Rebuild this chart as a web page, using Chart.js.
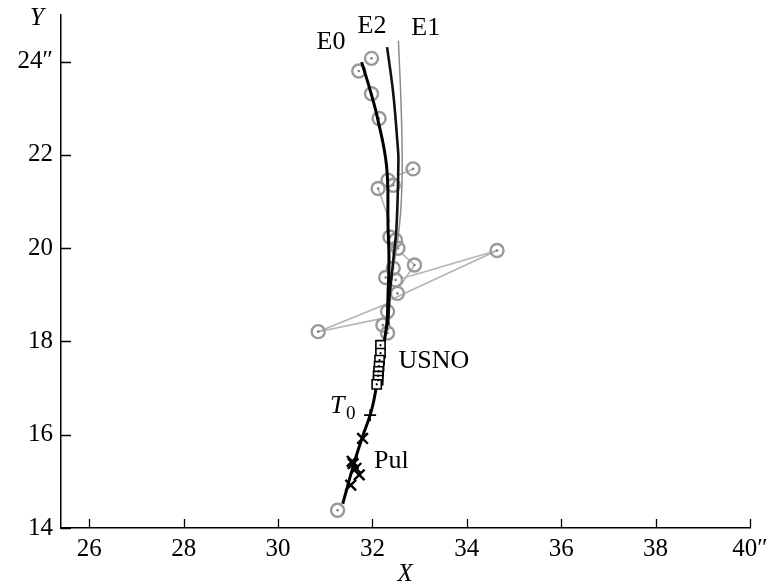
<!DOCTYPE html>
<html>
<head>
<meta charset="utf-8">
<script src="https://cdn.jsdelivr.net/npm/chart.js@4.4.1/dist/chart.umd.min.js"></script>
<style>
  html, body { margin: 0; padding: 0; background: #fff; }
</style>
</head>
<body>
<canvas id="chart" width="771" height="587"></canvas>
<script>
// axis ticks
const xTicks = [26, 28, 30, 32, 34, 36, 38, 40];
const xTickLabels = ["26", "28", "30", "32", "34", "36", "38", "40″"];
const yTicks = [14, 16, 18, 20, 22, 24];
const yTickLabels = ["14", "16", "18", "20", "22", "24″"];

// ephemeris curves
const e0X = [31.77, 31.95, 32.10, 32.30, 32.33, 32.35, 32.33, 32.30, 32.16, 32.03, 31.95, 31.78, 31.61, 31.37];
const e0Y = [23.99, 23.39, 22.82, 21.75, 20.46, 19.74, 19.03, 18.35, 17.49, 16.74, 16.42, 15.93, 15.39, 14.52];
const e2X = [32.31, 32.44, 32.53, 32.55, 32.51, 32.44, 32.37, 32.33];
const e2Y = [24.31, 23.32, 22.25, 21.90, 20.46, 19.74, 19.04, 18.35];
const e1X = [32.55, 32.61, 32.63, 32.60, 32.52, 32.43];
const e1Y = [24.45, 22.96, 21.75, 20.82, 20.07, 19.53];

// observations (gray circles)
const obsX = [31.98, 31.71, 31.98, 32.14, 32.86, 32.33, 32.44, 32.12, 32.37, 32.49, 32.54,
              32.89, 34.64, 32.44, 32.28, 32.49, 32.53, 32.32, 32.22, 32.32, 30.85, 31.26];
const obsY = [24.07, 23.80, 23.31, 22.78, 21.70, 21.46, 21.35, 21.28, 20.24, 20.17, 20.00,
              19.64, 19.95, 19.57, 19.37, 19.32, 19.03, 18.64, 18.35, 18.18, 18.21, 14.38];

// residual lines: observation index -> end point
const linkObs = [4, 7, 11, 11, 12, 12, 20, 20];
const linkEndX = [32.56, 32.37, 32.62, 32.58, 32.62, 32.40, 32.33, 32.24];
const linkEndY = [21.57, 20.56, 19.89, 19.18, 19.35, 18.90, 18.82, 18.50];

// USNO (squares), Pul (crosses), T0 mark
const usnoX = [32.17, 32.17, 32.15, 32.14, 32.13, 32.12, 32.12, 32.09];
const usnoY = [17.92, 17.75, 17.60, 17.47, 17.36, 17.26, 17.17, 17.08];
const pulX = [31.79, 31.57, 31.59, 31.65, 31.72, 31.54];
const pulY = [15.92, 15.43, 15.38, 15.28, 15.14, 14.92];
const t0X = [31.95];
const t0Y = [16.42];

// text labels
const labelText = ["E0", "E2", "E1", "USNO", "Pul"];
const labelX = [31.12, 31.99, 33.13, 33.30, 32.40];
const labelY = [24.42, 24.77, 24.71, 17.58, 15.43];

const pts = (xs, ys) => xs.map((x, i) => ({ x: x, y: ys[i] }));

const datasets = [];

linkObs.forEach((k, i) => {
  datasets.push({
    data: [{ x: obsX[k], y: obsY[k] }, { x: linkEndX[i], y: linkEndY[i] }],
    showLine: true,
    borderColor: "#b4b4b4",
    borderWidth: 1.6,
    pointRadius: 0,
    order: 10
  });
});

datasets.push({
  data: pts(obsX, obsY),
  pointStyle: "circle",
  pointRadius: 6.5,
  borderColor: "#999",
  borderWidth: 2.4,
  backgroundColor: "rgba(255,255,255,0)",
  order: 8
});
datasets.push({
  data: pts(obsX, obsY),
  pointRadius: 1.3,
  borderWidth: 0,
  backgroundColor: "#808080",
  order: 7
});

datasets.push({
  data: pts(e1X, e1Y),
  showLine: true,
  tension: 0.4,
  borderColor: "#8c8c8c",
  borderWidth: 1.5,
  pointRadius: 0,
  order: 6
});
datasets.push({
  data: pts(e2X, e2Y),
  showLine: true,
  tension: 0.4,
  borderColor: "#111",
  borderWidth: 2.6,
  pointRadius: 0,
  order: 5
});
datasets.push({
  data: pts(e0X, e0Y),
  showLine: true,
  tension: 0.4,
  borderColor: "#000",
  borderWidth: 3,
  pointRadius: 0,
  order: 4
});

datasets.push({
  data: pts(usnoX, usnoY),
  pointStyle: "rect",
  pointRadius: 6.5,
  borderColor: "#000",
  borderWidth: 1.6,
  backgroundColor: "#fff",
  order: 3
});
datasets.push({
  data: pts(usnoX, usnoY),
  pointRadius: 1.1,
  borderWidth: 0,
  backgroundColor: "#000",
  order: 2
});
datasets.push({
  data: pts(pulX, pulY),
  pointStyle: "crossRot",
  pointRadius: 7.5,
  borderColor: "#000",
  borderWidth: 2.4,
  order: 1
});
datasets.push({
  data: pts(t0X, t0Y),
  pointStyle: "cross",
  pointRadius: 6,
  borderColor: "#000",
  borderWidth: 1.6,
  order: 1
});

// inward ticks, annotations, axis titles
const decor = {
  id: "decor",
  afterDraw(chart) {
    const { ctx, chartArea: a, scales: { x, y } } = chart;
    ctx.save();
    ctx.strokeStyle = "#000";
    ctx.lineWidth = 1.3;
    ctx.beginPath();
    xTicks.forEach(v => {
      const p = Math.round(x.getPixelForValue(v)) + 0.5;
      ctx.moveTo(p, a.bottom);
      ctx.lineTo(p, a.bottom - 9);
    });
    yTicks.forEach(v => {
      const p = Math.round(y.getPixelForValue(v)) + 0.5;
      ctx.moveTo(a.left, p);
      ctx.lineTo(a.left + 10, p);
    });
    ctx.stroke();

    ctx.fillStyle = "#000";
    ctx.textAlign = "center";
    ctx.textBaseline = "middle";
    ctx.font = '26px "Liberation Serif"';
    labelText.forEach((t, i) => {
      ctx.fillText(t, x.getPixelForValue(labelX[i]), y.getPixelForValue(labelY[i]));
    });

    // T0
    ctx.textAlign = "left";
    ctx.textBaseline = "alphabetic";
    ctx.font = 'italic 26px "Liberation Serif"';
    ctx.fillText("T", 330, 413);
    ctx.font = '19px "Liberation Serif"';
    ctx.fillText("0", 346, 419);

    // axis titles
    ctx.textAlign = "center";
    ctx.textBaseline = "middle";
    ctx.font = 'italic 25px "Liberation Serif"';
    ctx.fillText("Y", a.left - 24, a.top + 3);
    ctx.fillText("X", x.getPixelForValue(32.69), 574);
    ctx.restore();
  }
};

new Chart(document.getElementById("chart"), {
  type: "scatter",
  data: { datasets: datasets },
  plugins: [decor],
  options: {
    responsive: false,
    animation: false,
    layout: { padding: { top: 15, right: 21, bottom: 0, left: 0 } },
    plugins: { legend: { display: false }, tooltip: { enabled: false } },
    scales: {
      x: {
        type: "linear",
        min: 25.4,
        max: 40,
        afterBuildTicks: s => { s.ticks = xTicks.map(v => ({ value: v })); },
        afterFit: s => { s.height = 59; s.paddingLeft = 0; s.paddingRight = 0; },
        grid: { display: false, drawTicks: false },
        border: { display: true, color: "#000", width: 1.5 },
        ticks: {
          padding: 6,
          color: "#000",
          font: { family: "Liberation Serif", size: 25 },
          callback: v => xTickLabels[xTicks.indexOf(v)]
        }
      },
      y: {
        type: "linear",
        min: 14,
        max: 25,
        afterBuildTicks: s => { s.ticks = yTicks.map(v => ({ value: v })); },
        afterFit: s => { s.width = 61; s.paddingTop = 0; s.paddingBottom = 0; },
        grid: { display: false, drawTicks: false },
        border: { display: true, color: "#000", width: 1.5 },
        ticks: {
          padding: 8,
          color: "#000",
          font: { family: "Liberation Serif", size: 25 },
          callback: v => yTickLabels[yTicks.indexOf(v)]
        }
      }
    }
  }
});
</script>
</body>
</html>
